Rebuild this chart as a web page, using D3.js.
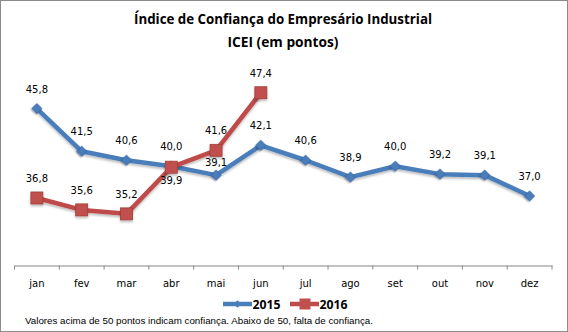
<!DOCTYPE html>
<html><head><meta charset="utf-8">
<script src="https://cdn.jsdelivr.net/npm/d3@7"></script>
<style>body{margin:0;background:#fff}svg{display:block}</style>
</head><body>
<svg id="c" width="568" height="332"></svg>
<script>
const months = ["jan","fev","mar","abr","mai","jun","jul","ago","set","out","nov","dez"];
const series2015 = [45.8,41.5,40.6,40.0,39.1,42.1,40.6,38.9,40.0,39.2,39.1,37.0];
const series2016 = [36.8,35.6,35.2,39.9,41.6,47.4];
const seriesNames = ["2015","2016"];
const yDomain = [30,50];

const svg = d3.select("#c");
const W = 568, H = 332;
svg.append("rect").attr("x",0.5).attr("y",0.5).attr("width",W-1).attr("height",H-1)
  .attr("fill","#fff").attr("stroke","#8c8c8c").attr("stroke-width",1);

const defs = svg.append("defs");
const f = defs.append("filter").attr("id","sh").attr("x","-20%").attr("y","-20%").attr("width","140%").attr("height","150%");
f.append("feDropShadow").attr("dx",0).attr("dy",2).attr("stdDeviation",1.2).attr("flood-color","#000").attr("flood-opacity",0.25);

const title = svg.append("g").attr("font-family","'Open Sans',sans-serif").attr("font-weight","bold").attr("fill","#000").attr("text-anchor","middle");
title.append("text").attr("x",283).attr("y",24).attr("font-size",13.5).attr("textLength",298).attr("lengthAdjust","spacingAndGlyphs").text("Índice de Confiança do Empresário Industrial");
title.append("text").attr("x",283).attr("y",47).attr("font-size",13.5).attr("textLength",111).attr("lengthAdjust","spacingAndGlyphs").text("ICEI (em pontos)");

const x = d3.scaleBand().domain(months).range([14.5,552]);
const y = d3.scaleLinear().domain(yDomain).range([265.5,66.9]);

const axis = d3.axisBottom(x).tickSize(0).tickPadding(14);
const ag = svg.append("g").attr("transform","translate(0,265.5)").call(axis);
ag.select(".domain").attr("stroke","#868686").attr("stroke-width",1);
ag.selectAll("text").attr("font-family","'DejaVu Sans',Verdana,sans-serif").attr("font-size",10).attr("fill","#000");
// boundary ticks
const bounds = months.map(m=>x(m)).concat([x.range()[1]]);
svg.append("g").selectAll("line").data(bounds).join("line")
  .attr("x1",d=>d).attr("x2",d=>d).attr("y1",265.5).attr("y2",269.5)
  .attr("stroke","#868686").attr("stroke-width",1);

const cx = (i)=>x(months[i])+x.bandwidth()/2;
const line = d3.line().x((d,i)=>cx(i)).y(d=>y(d));

const colors = ["#4A7EBB","#BE4B48"];
const g = svg.append("g");
g.append("path").datum(series2015).attr("d",line).attr("fill","none").attr("stroke",colors[0]).attr("stroke-width",4.5).attr("stroke-linejoin","round").attr("filter","url(#sh)");
g.append("path").datum(series2016).attr("d",line).attr("fill","none").attr("stroke",colors[1]).attr("stroke-width",4.5).attr("stroke-linejoin","round").attr("filter","url(#sh)");

const diamond = d3.symbol().type(d3.symbolSquare).size(50);
g.selectAll(".d").data(series2015).join("path")
  .attr("d",diamond).attr("transform",(d,i)=>`translate(${cx(i)},${y(d)}) rotate(45)`)
  .attr("fill","#4A7EBB").attr("stroke","#3A6BA8").attr("stroke-width",0.8).attr("filter","url(#sh)");
g.selectAll(".s").data(series2016).join("rect")
  .attr("x",(d,i)=>cx(i)-6).attr("y",d=>y(d)-6).attr("width",12).attr("height",12)
  .attr("fill","#C0504D").attr("stroke","#A23E3B").attr("stroke-width",0.8).attr("filter","url(#sh)");

const fmt = v=>v.toFixed(1).replace(".",",");
const off2015 = {4:-12.6};
const off2016 = {3:13.5};
const lab = svg.append("g").attr("font-family","'DejaVu Sans',Verdana,sans-serif").attr("font-size",10).attr("fill","#000").attr("text-anchor","middle").attr("dominant-baseline","central");
series2015.forEach((v,i)=>{
  lab.append("text").attr("x",cx(i)).attr("y",y(v)+(off2015[i]??-19.5)).text(fmt(v));
});
series2016.forEach((v,i)=>{
  lab.append("text").attr("x",cx(i)).attr("y",y(v)+(off2016[i]??-19.5)).text(fmt(v));
});

// legend
const lg = svg.append("g");
const legItems = [{name:seriesNames[0],c:colors[0],x0:223,m:"d"},{name:seriesNames[1],c:colors[1],x0:290,m:"s"}];
legItems.forEach(it=>{
  lg.append("line").attr("x1",it.x0).attr("x2",it.x0+29).attr("y1",304).attr("y2",304).attr("stroke",it.c).attr("stroke-width",4.5);
  if(it.m==="d") lg.append("path").attr("d",d3.symbol().type(d3.symbolSquare).size(30)()).attr("transform",`translate(${it.x0+14.5},304) rotate(45)`).attr("fill",it.c);
  else lg.append("rect").attr("x",it.x0+9.5).attr("y",298.5).attr("width",11).attr("height",11).attr("fill","#C0504D");
  lg.append("text").attr("x",it.x0+29.5).attr("y",304).attr("dominant-baseline","central").attr("font-family","'Open Sans',sans-serif").attr("font-weight","bold").attr("font-size",12).attr("textLength",28).attr("lengthAdjust","spacingAndGlyphs").text(it.name);
});

svg.append("text").attr("x",25).attr("y",324).attr("font-family","'Liberation Sans',Arial,sans-serif").attr("font-size",9).attr("textLength",348).attr("lengthAdjust","spacingAndGlyphs").attr("fill","#000")
  .text("Valores acima de 50 pontos indicam confiança. Abaixo de 50, falta de confiança.");
</script>
</body></html>
